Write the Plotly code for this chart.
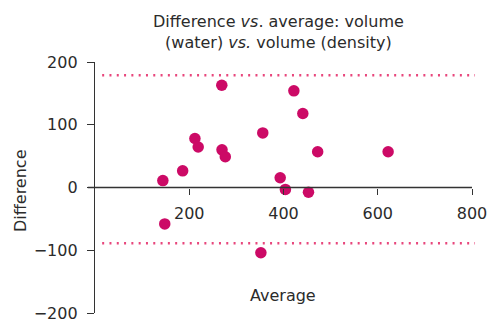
import plotly.graph_objects as go

# Data
average = [269, 422, 441, 356, 212, 219, 269.5, 276.5, 472.5, 622,
           144, 186, 393, 404, 453, 148, 352]
difference = [163, 154, 118, 87, 78, 64.5, 60, 49, 57, 57,
              11, 26.6, 15.5, -3, -7.5, -58, -104]
upper_limit = 179
lower_limit = -89
x_ticks = [200, 400, 600, 800]
y_ticks = [-200, -100, 0, 100, 200]
y_tick_text = ["\u2212200", "\u2212100", "0", "100", "200"]

FONT = "DejaVu Sans, sans-serif"
TXT = "#2b2b2b"
FS = 16

fig = go.Figure()
fig.add_trace(go.Scatter(
    x=average, y=difference, mode="markers",
    marker=dict(size=11.5, color="#CC0A66", line=dict(width=0)),
    showlegend=False, cliponaxis=False))

for v in (upper_limit, lower_limit):
    fig.add_shape(type="line", xref="paper", yref="y",
                  x0=0.019, x1=1.008, y0=v, y1=v,
                  line=dict(color="#E8467C", width=2.5, dash="2px,5.3px"))

# x axis line extending slightly left of the y axis
fig.add_shape(type="line", xref="paper", yref="y", x0=-0.019, x1=1.0,
              y0=0, y1=0, line=dict(color="#333333", width=1.3))

fig.update_layout(
    template="none",
    width=487, height=323,
    margin=dict(l=95, r=15, t=62, b=10, autoexpand=False),
    paper_bgcolor="white", plot_bgcolor="white",
    font=dict(family=FONT, size=FS, color=TXT),
    xaxis=dict(range=[0, 800], tickvals=x_ticks, ticks="outside", ticklen=6,
               tickcolor="#333333", tickwidth=1.3, showline=False,
               showgrid=False, zeroline=False, anchor="free", position=0.5,
               automargin=False, ticklabelstandoff=5,
               ticklabeloverflow="allow",
               tickfont=dict(size=FS, color=TXT)),
    yaxis=dict(range=[-200, 200], tickvals=y_ticks, ticktext=y_tick_text,
               ticks="outside", ticklen=7, tickcolor="#333333", tickwidth=1.3,
               showline=True, linecolor="#333333", linewidth=1.3,
               showgrid=False, zeroline=False, ticklabelstandoff=6,
               ticklabeloverflow="allow",
               automargin=False, tickfont=dict(size=FS, color=TXT)),
    annotations=[
        dict(text="Difference <i>vs</i>. average: volume<br>(water) <i>vs.</i> volume (density)",
             xref="paper", yref="paper", x=(278 - 95) / 377, y=1.0,
             yshift=8, xanchor="center", yanchor="bottom", showarrow=False,
             font=dict(size=FS, color=TXT), align="center"),
        dict(text="Difference", xref="paper", yref="paper",
             x=(20 - 95) / 377, y=(313 - 191) / 251, textangle=-90,
             xanchor="center", yanchor="middle", showarrow=False,
             font=dict(size=FS, color=TXT)),
        dict(text="Average", xref="paper", yref="paper",
             x=(283 - 95) / 377, y=(313 - 295) / 251,
             xanchor="center", yanchor="middle", showarrow=False,
             font=dict(size=FS, color=TXT)),
    ],
)

fig.write_html("out.html")
